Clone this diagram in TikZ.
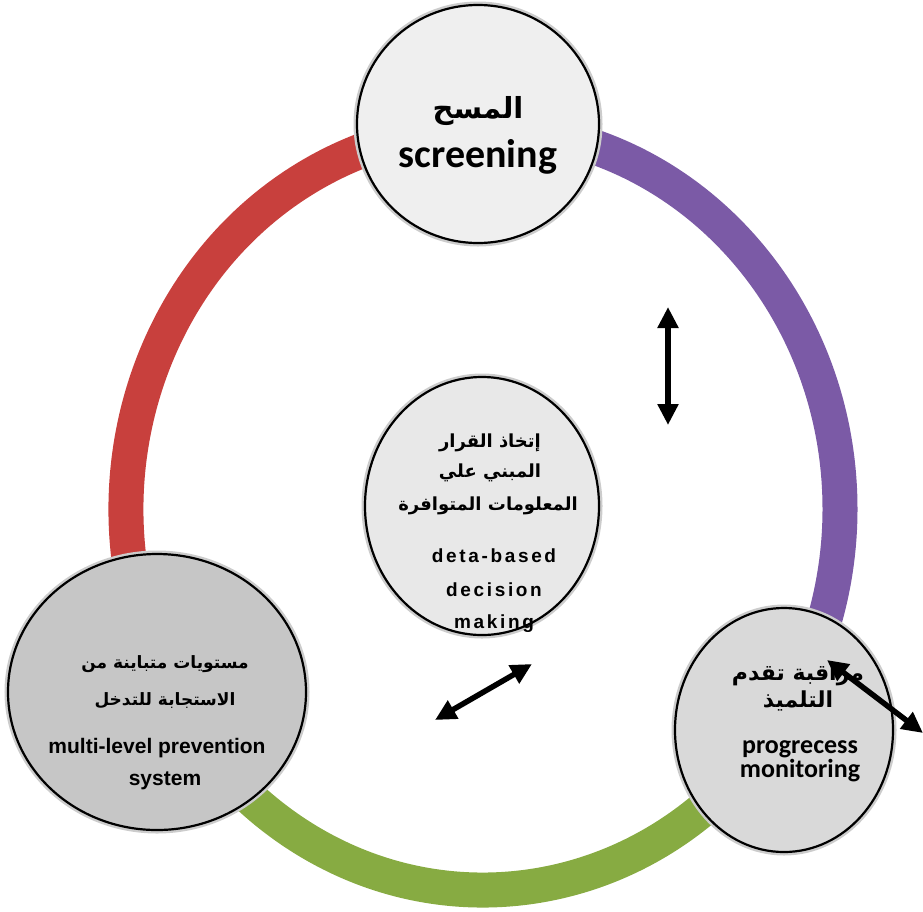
\documentclass[tikz,border=0pt]{standalone}
\usepackage{fontspec}
\usetikzlibrary{arrows.meta,shapes.geometric,positioning,calc}
\TeXXeTstate=1
\newfontfamily\arabicfont[Script=Arabic]{DejaVu Sans}
\newfontfamily\calibfont{Carlito}
\newfontfamily\arialfont{Liberation Sans}
\newfontfamily\arialspaced[LetterSpace=14]{Liberation Sans}
\newcommand{\artxt}[1]{{\arabicfont\bfseries\beginR #1\endR}}
\definecolor{ringred}{HTML}{C8403D}
\definecolor{ringpurple}{HTML}{7B5AA6}
\definecolor{ringgreen}{HTML}{87AB42}
\definecolor{topfill}{HTML}{EFEFEF}
\definecolor{decfill}{HTML}{E8E8E8}
\definecolor{levelfill}{HTML}{C6C6C6}
\definecolor{progfill}{HTML}{D9D9D9}
\tikzset{
    ringarc/.style={line width=35pt},
    stage/.style={ellipse, draw=black, line width=2.2pt, inner sep=0pt,
        preaction={draw=gray!40, line width=7pt}},
    artop/.style={anchor=base, font=\fontsize{29}{34}\selectfont},
    entop/.style={anchor=base, font=\calibfont\bfseries\fontsize{40}{46}\selectfont},
    ardec/.style={anchor=base, font=\fontsize{18}{22}\selectfont},
    endec/.style={anchor=base, font=\arialspaced\bfseries\fontsize{19}{22}\selectfont},
    arlevel/.style={anchor=base, font=\fontsize{17}{21}\selectfont},
    enlevel/.style={anchor=base, font=\arialfont\bfseries\fontsize{21}{25}\selectfont},
    arprog/.style={anchor=base, font=\fontsize{22}{26}\selectfont},
    enprog/.style={anchor=base, font=\calibfont\bfseries\fontsize{26}{30}\selectfont},
    dblarrow/.style={line width=5.5pt,
        {Triangle[width=20pt,length=21pt]}-{Triangle[width=20pt,length=21pt]}}
}
\begin{document}
\begin{tikzpicture}[x=1pt,y=-1pt]
    \useasboundingbox (0,0) rectangle (923,911);
    \coordinate (ringc) at (483,509);
    % the ring
    \draw[ringarc,draw=ringred] (ringc) ++(152:357 and 381)
        arc[start angle=152,end angle=270,x radius=357,y radius=381];
    \draw[ringarc,draw=ringpurple] (ringc) ++(270:357 and 381)
        arc[start angle=270,end angle=394,x radius=357,y radius=381];
    \draw[ringarc,draw=ringgreen] (ringc) ++(34:357 and 381)
        arc[start angle=34,end angle=152,x radius=357,y radius=381];
    % the four circles
    \node[stage,fill=topfill,minimum width=242pt,minimum height=238pt] (screen) at (478,124) {};
    \node[stage,fill=decfill,minimum width=234pt,minimum height=258pt] (decision) at (482,506) {};
    \node[stage,fill=levelfill,minimum width=298pt,minimum height=276pt] (levels) at (157,692) {};
    \node[stage,fill=progfill,minimum width=218pt,minimum height=244pt] (progress) at (784,730) {};
    % texts
    \node[artop] (screenar) at (478,118) {\artxt{المسح}};
    \node[entop] (screenen) at (478,167) {screening};
    \node[ardec] (decar1) at (490,447) {\artxt{إتخاذ القرار}};
    \node[ardec] (decar2) at (490,477) {\artxt{المبني علي}};
    \node[ardec] (decar3) at (488,510) {\artxt{المعلومات المتوافرة}};
    \node[endec] (decen1) at (494,562) {deta-based};
    \node[endec] (decen2) at (494,596) {decision};
    \node[endec] (decen3) at (494,628) {making};
    \node[arlevel] (levelar1) at (165,668) {\artxt{مستويات متباينة من}};
    \node[arlevel] (levelar2) at (165,705) {\artxt{الاستجابة للتدخل}};
    \node[enlevel] (levelen1) at (157,753) {multi-level prevention};
    \node[enlevel] (levelen2) at (165,785) {system};
    \node[arprog] (progar1) at (798,680) {\artxt{مراقبة تقدم}};
    \node[arprog] (progar2) at (798,707) {\artxt{التلميذ}};
    \node[enprog] (progen1) at (800,753) {progrecess};
    \node[enprog] (progen2) at (800,777) {monitoring};
    % arrows
    \coordinate (vtop) at (668,307);
    \coordinate (vbot) at (668,425);
    \coordinate (dlow) at (435,720);
    \coordinate (dup) at (532,664);
    \coordinate (pin) at (827,660);
    \coordinate (pout) at (923,733);
    \draw[dblarrow] (vtop) -- (vbot);
    \draw[dblarrow] (dlow) -- (dup);
    \draw[dblarrow] (pin) -- (pout);
\end{tikzpicture}
\end{document}
